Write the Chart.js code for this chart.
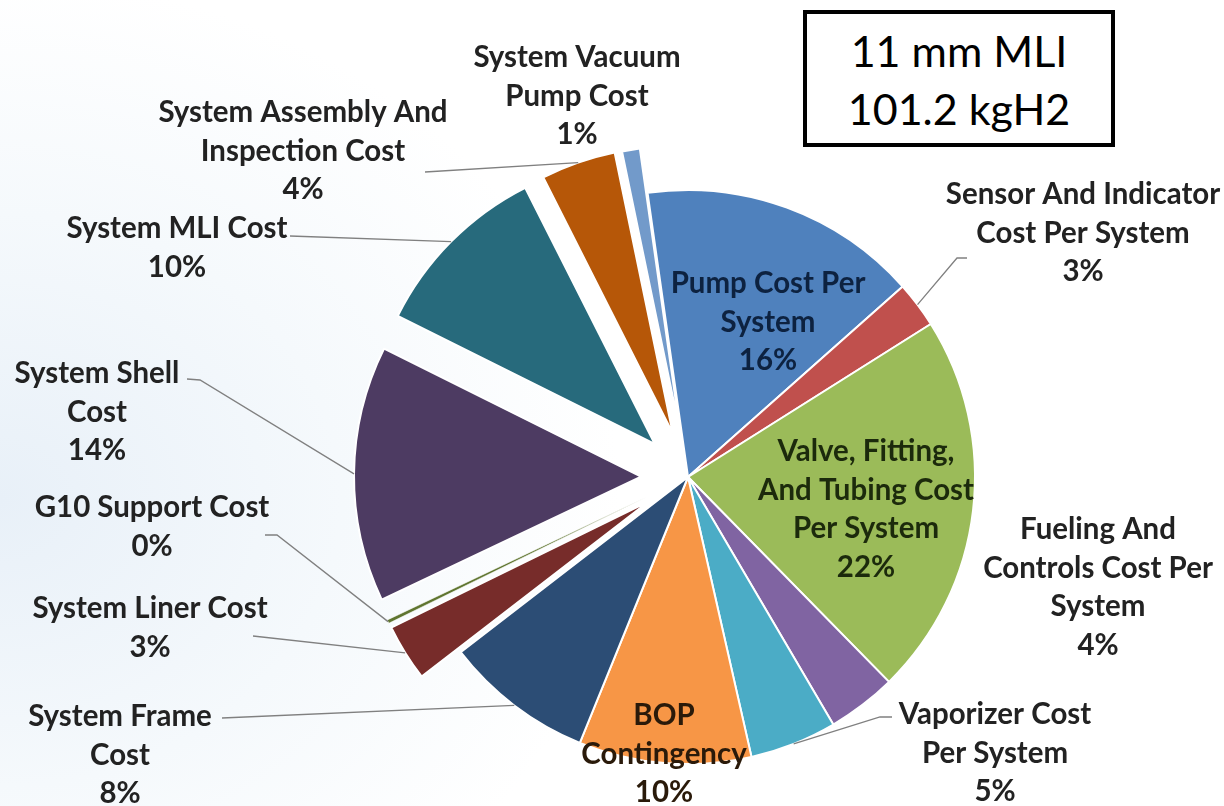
<!DOCTYPE html>
<html>
<head>
<meta charset="utf-8">
<title>11 mm MLI cost breakdown</title>
<script src="https://cdn.jsdelivr.net/npm/chart.js@4.4.1/dist/chart.umd.min.js"></script>
<style>
  html, body { margin: 0; padding: 0; background: #fff; }
  #wrap { position: relative; width: 1224px; height: 806px;
    background: radial-gradient(ellipse 620px 520px at 0% 62%, #e8f0f8 0%, #f5f9fc 55%, #ffffff 100%); }
  #wrap canvas { position: absolute; left: 0; top: 0; }
  #note { position: absolute; left: 803px; top: 10px; width: 304px; height: 121px;
    border: 4px solid #000; background: #fff; text-align: center;
    font-family: Lato, "Open Sans", sans-serif; font-size: 43px; line-height: 58px;
    padding-top: 8px; color: #000; }
</style>
</head>
<body>
<div id="wrap">
  <canvas id="pie"></canvas>
  <div id="note">11 mm MLI<br>101.2 kgH2</div>
</div>
<script>
// Cost breakdown for the 11 mm MLI / 101.2 kgH2 system, clockwise from the top.
const categories = [
  'Pump Cost Per System',
  'Sensor And Indicator Cost Per System',
  'Valve, Fitting, And Tubing Cost Per System',
  'Fueling And Controls Cost Per System',
  'Vaporizer Cost Per System',
  'BOP Contingency',
  'System Frame Cost',
  'System Liner Cost',
  'G10 Support Cost',
  'System Shell Cost',
  'System MLI Cost',
  'System Assembly And Inspection Cost',
  'System Vacuum Pump Cost'
];

// share of total cost (%)
const shares = [15.7, 2.6, 21.6, 3.9, 4.9, 9.7, 8.4, 3.2, 0.2, 14.4, 10.2, 4.2, 1.0];

// how each label is broken over lines (percent line is added from the data)
const labelLines = [
  ['Pump Cost Per', 'System'],
  ['Sensor And Indicator', 'Cost Per System'],
  ['Valve, Fitting,', 'And Tubing Cost', 'Per System'],
  ['Fueling And', 'Controls Cost Per', 'System'],
  ['Vaporizer Cost', 'Per System'],
  ['BOP', 'Contingency'],
  ['System Frame', 'Cost'],
  ['System Liner Cost'],
  ['G10 Support Cost'],
  ['System Shell', 'Cost'],
  ['System MLI Cost'],
  ['System Assembly And', 'Inspection Cost'],
  ['System Vacuum', 'Pump Cost']
];

// ---------- styling / layout ----------
const COLORS = ['#4f81bd', '#c0504d', '#9bbb59', '#8064a2', '#4bacc6', '#f79646',
                '#2c4d75', '#772c2a', '#5f7530', '#4d3b62', '#276a7c', '#b65708', '#729aca'];
const EXPLODE = [0, 0, 0, 0, 0, 0, 0, 46, 46, 47, 47, 46, 45];   // px pulled out
const BORDERS = [2, 2, 2, 2, 2, 2, 2, 2, 0.6, 2, 2, 2, 2];
const RADIUS = 287;
const ROTATION = -8.1;
const FONT = 'bold 31px Lato, "Open Sans", sans-serif';
const TEXT_SX = 0.95;
const LINE_H = 38.5;

// label centre x, first line centre y, colour, leader points (label side)
const LABEL_LAYOUT = [
  { x: 768, y: 283, color: '#0d2240' },
  { x: 1083, y: 194, color: '#222', leader: [[967, 258], [957, 258]] },
  { x: 866, y: 451, color: '#1c2a0c' },
  { x: 1098, y: 529, color: '#222' },
  { x: 995, y: 714, color: '#222', leader: [[892, 717], [880, 717]] },
  { x: 664, y: 715, color: '#2a1a0a' },
  { x: 120, y: 716, color: '#222', leader: [[222, 718]] },
  { x: 150, y: 608, color: '#222', leader: [[253, 636]] },
  { x: 152, y: 507, color: '#222', leader: [[265, 535], [277, 535]] },
  { x: 97, y: 373, color: '#222', leader: [[187, 379], [200, 380]] },
  { x: 177, y: 228, color: '#222', leader: [[290, 236]] },
  { x: 303, y: 112, color: '#222', leader: [[425, 172]] },
  { x: 577, y: 57, color: '#222' }
];

// Chart.js grows the radius of offset slices and trims their angle;
// undo both so every slice keeps RADIUS and its true share
const keepShape = {
  id: 'keepShape',
  afterDatasetUpdate: function (chart, args) {
    args.meta.data.forEach(function (arc, i) {
      const off = EXPLODE[i];
      if (!off) return;
      const fix = 1 - Math.sin(Math.min(Math.PI, arc.circumference || 0));
      const radiusOffset = off * fix;
      arc.outerRadius = RADIUS - radiusOffset;
      const widen = radiusOffset / (Math.PI * RADIUS);
      arc.startAngle -= widen / 2;
      arc.endAngle += widen / 2;
    });
  }
};

const pieLabels = {
  id: 'pieLabels',
  afterDatasetsDraw: function (chart) {
    const ctx = chart.ctx;
    const meta = chart.getDatasetMeta(0);
    ctx.save();
    // leader lines
    ctx.strokeStyle = '#808080';
    ctx.lineWidth = 1.3;
    meta.data.forEach(function (arc, i) {
      const lay = LABEL_LAYOUT[i];
      if (!lay.leader) return;
      const mid = (arc.startAngle + arc.endAngle) / 2;
      const r = RADIUS + EXPLODE[i];
      const ax = arc.x + Math.cos(mid) * r;
      const ay = arc.y + Math.sin(mid) * r;
      ctx.beginPath();
      ctx.moveTo(lay.leader[0][0], lay.leader[0][1]);
      for (let k = 1; k < lay.leader.length; k++) ctx.lineTo(lay.leader[k][0], lay.leader[k][1]);
      ctx.lineTo(ax, ay);
      ctx.stroke();
    });
    // text
    ctx.font = FONT;
    ctx.textAlign = 'center';
    ctx.textBaseline = 'middle';
    shares.forEach(function (v, i) {
      const lay = LABEL_LAYOUT[i];
      const lines = labelLines[i].concat([Math.round(v) + '%']);
      ctx.fillStyle = lay.color;
      lines.forEach(function (t, k) {
        ctx.save();
        ctx.translate(lay.x, lay.y + k * LINE_H);
        ctx.scale(TEXT_SX, 1);
        ctx.fillText(t, 0, 0);
        ctx.restore();
      });
    });
    ctx.restore();
  }
};

new Chart(document.getElementById('pie'), {
  type: 'pie',
  data: {
    labels: categories,
    datasets: [{
      data: shares,
      backgroundColor: COLORS,
      borderColor: '#ffffff',
      borderWidth: BORDERS,
      offset: EXPLODE.map(function (p) { return p * 4; })
    }]
  },
  options: {
    responsive: true,
    maintainAspectRatio: false,
    animation: false,
    events: [],
    rotation: ROTATION,
    radius: RADIUS,
    layout: { padding: { left: 400, right: 248, top: 190, bottom: 42 } },
    plugins: { legend: { display: false }, tooltip: { enabled: false } }
  },
  plugins: [keepShape, pieLabels]
});
</script>
</body>
</html>
